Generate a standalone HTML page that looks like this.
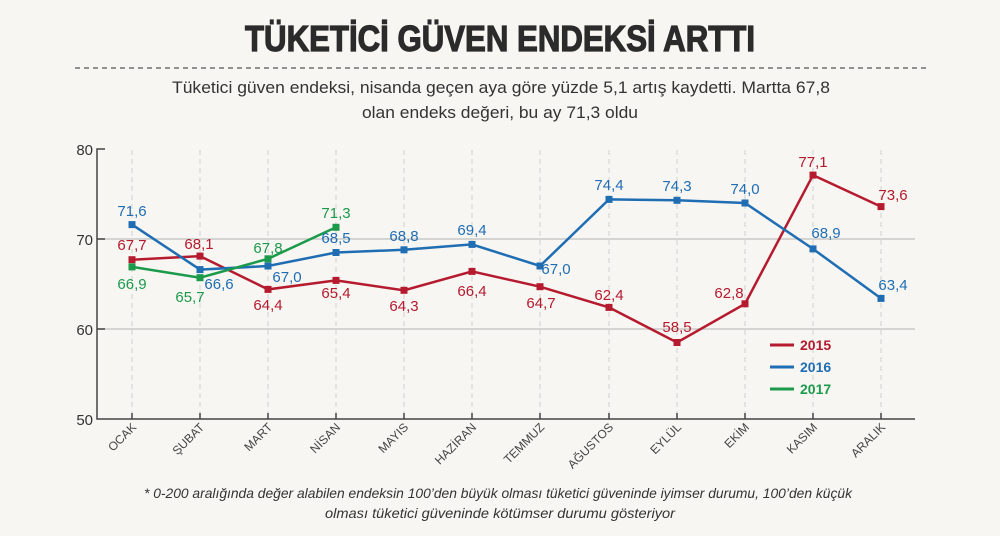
<!DOCTYPE html>
<html><head><meta charset="utf-8"><style>
html,body{margin:0;padding:0;background:#f7f6f2;}
svg{display:block;font-family:"Liberation Sans",sans-serif;}
</style></head><body>
<svg width="1000" height="536" viewBox="0 0 1000 536" xmlns="http://www.w3.org/2000/svg">
<rect width="1000" height="536" fill="#f7f6f2"/>
<text x="500" y="51" text-anchor="middle" font-size="36" font-weight="bold" fill="#2b2b2b" stroke="#2b2b2b" stroke-width="1.2" textLength="510" lengthAdjust="spacingAndGlyphs">TÜKETİCİ GÜVEN ENDEKSİ ARTTI</text>
<line x1="75" y1="68" x2="930" y2="68" stroke="#555" stroke-width="1.2" stroke-dasharray="5,4"/>
<text x="501" y="93" text-anchor="middle" font-size="17" fill="#333" textLength="658" lengthAdjust="spacingAndGlyphs">Tüketici güven endeksi, nisanda geçen aya göre yüzde 5,1 artış kaydetti. Martta 67,8</text>
<text x="500" y="118" text-anchor="middle" font-size="17" fill="#333" textLength="276" lengthAdjust="spacingAndGlyphs">olan endeks değeri, bu ay 71,3 oldu</text>

<line x1="97" y1="239" x2="915" y2="239" stroke="#c8c8c8" stroke-width="1.5"/>
<line x1="97" y1="329" x2="915" y2="329" stroke="#c8c8c8" stroke-width="1.5"/>
<g stroke="#d0d0d0" stroke-dasharray="5,4" stroke-width="1">
<line x1="132" y1="150" x2="132" y2="419"/><line x1="200" y1="150" x2="200" y2="419"/><line x1="268" y1="150" x2="268" y2="419"/><line x1="336" y1="150" x2="336" y2="419"/><line x1="404" y1="150" x2="404" y2="419"/><line x1="472" y1="150" x2="472" y2="419"/><line x1="540" y1="150" x2="540" y2="419"/><line x1="609" y1="150" x2="609" y2="419"/><line x1="677" y1="150" x2="677" y2="419"/><line x1="745" y1="150" x2="745" y2="419"/><line x1="813" y1="150" x2="813" y2="419"/><line x1="881" y1="150" x2="881" y2="419"/>
</g>
<g stroke="#444" stroke-width="1.5" fill="none">
<polyline points="105,149 97,149 97,419 915,419"/>
<line x1="97" y1="239" x2="105" y2="239"/><line x1="97" y1="329" x2="105" y2="329"/>
<line x1="132" y1="413" x2="132" y2="419"/><line x1="200" y1="413" x2="200" y2="419"/><line x1="268" y1="413" x2="268" y2="419"/><line x1="336" y1="413" x2="336" y2="419"/><line x1="404" y1="413" x2="404" y2="419"/><line x1="472" y1="413" x2="472" y2="419"/><line x1="540" y1="413" x2="540" y2="419"/><line x1="609" y1="413" x2="609" y2="419"/><line x1="677" y1="413" x2="677" y2="419"/><line x1="745" y1="413" x2="745" y2="419"/><line x1="813" y1="413" x2="813" y2="419"/><line x1="881" y1="413" x2="881" y2="419"/>
</g>
<g font-size="15" fill="#333" text-anchor="end">
<text x="93" y="155">80</text><text x="93" y="245">70</text><text x="93" y="335">60</text><text x="93" y="425">50</text>
</g>
<g font-size="12" fill="#444" text-anchor="end">
<text transform="translate(137,428) rotate(-45)">OCAK</text>
<text transform="translate(205,428) rotate(-45)">ŞUBAT</text>
<text transform="translate(273,428) rotate(-45)">MART</text>
<text transform="translate(341,428) rotate(-45)">NİSAN</text>
<text transform="translate(409,428) rotate(-45)">MAYIS</text>
<text transform="translate(477,428) rotate(-45)">HAZİRAN</text>
<text transform="translate(545,428) rotate(-45)">TEMMUZ</text>
<text transform="translate(614,428) rotate(-45)">AĞUSTOS</text>
<text transform="translate(682,428) rotate(-45)">EYLÜL</text>
<text transform="translate(750,428) rotate(-45)">EKİM</text>
<text transform="translate(818,428) rotate(-45)">KASIM</text>
<text transform="translate(886,428) rotate(-45)">ARALIK</text>
</g>

<g stroke="#b51a2e" fill="#b51a2e">
<polyline fill="none" stroke-width="2.5" points="132,259.7 200,256.1 268,289.4 336,280.4 404,290.3 472,271.4 540,286.7 609,307.4 677,342.5 745,303.8 813,175.1 881,206.6"/>
<g stroke="none">
<rect x="128.5" y="256.2" width="7" height="7"/><rect x="196.5" y="252.6" width="7" height="7"/><rect x="264.5" y="285.9" width="7" height="7"/><rect x="332.5" y="276.9" width="7" height="7"/><rect x="400.5" y="286.8" width="7" height="7"/><rect x="468.5" y="267.9" width="7" height="7"/><rect x="536.5" y="283.2" width="7" height="7"/><rect x="605.5" y="303.9" width="7" height="7"/><rect x="673.5" y="339" width="7" height="7"/><rect x="741.5" y="300.3" width="7" height="7"/><rect x="809.5" y="171.6" width="7" height="7"/><rect x="877.5" y="203.1" width="7" height="7"/>
</g></g>
<g stroke="#1f6db3" fill="#1f6db3">
<polyline fill="none" stroke-width="2.5" points="132,224.6 200,269.6 268,266 336,252.5 404,249.8 472,244.4 540,266 609,199.4 677,200.3 745,203 813,248.9 881,298.4"/>
<g stroke="none">
<rect x="128.5" y="221.1" width="7" height="7"/><rect x="196.5" y="266.1" width="7" height="7"/><rect x="264.5" y="262.5" width="7" height="7"/><rect x="332.5" y="249" width="7" height="7"/><rect x="400.5" y="246.3" width="7" height="7"/><rect x="468.5" y="240.9" width="7" height="7"/><rect x="536.5" y="262.5" width="7" height="7"/><rect x="605.5" y="195.9" width="7" height="7"/><rect x="673.5" y="196.8" width="7" height="7"/><rect x="741.5" y="199.5" width="7" height="7"/><rect x="809.5" y="245.4" width="7" height="7"/><rect x="877.5" y="294.9" width="7" height="7"/>
</g></g>
<g stroke="#1b9a4b" fill="#1b9a4b">
<polyline fill="none" stroke-width="2.5" points="132,266.9 200,277.7 268,258.8 336,227.3"/>
<g stroke="none">
<rect x="128.5" y="263.4" width="7" height="7"/><rect x="196.5" y="274.2" width="7" height="7"/><rect x="264.5" y="255.3" width="7" height="7"/><rect x="332.5" y="223.8" width="7" height="7"/>
</g></g>

<g font-size="15" text-anchor="middle">
<g fill="#b51a2e">
<text x="132" y="250">67,7</text><text x="199" y="249">68,1</text><text x="268" y="310">64,4</text><text x="336" y="298">65,4</text><text x="404" y="311">64,3</text><text x="472" y="296">66,4</text><text x="541" y="308">64,7</text><text x="609" y="300">62,4</text><text x="677" y="332">58,5</text><text x="729" y="298">62,8</text><text x="813" y="167">77,1</text><text x="893" y="200">73,6</text>
<text x="800" y="350" font-weight="bold" font-size="14" text-anchor="start">2015</text>
</g>
<g fill="#1f6db3">
<text x="132" y="216">71,6</text><text x="219" y="289">66,6</text><text x="287" y="282">67,0</text><text x="336" y="243">68,5</text><text x="404" y="241">68,8</text><text x="472" y="235">69,4</text><text x="556" y="274">67,0</text><text x="609" y="190">74,4</text><text x="677" y="191">74,3</text><text x="745" y="194">74,0</text><text x="826" y="238">68,9</text><text x="893" y="290">63,4</text>
<text x="800" y="372" font-weight="bold" font-size="14" text-anchor="start">2016</text>
</g>
<g fill="#1b9a4b">
<text x="132" y="289">66,9</text><text x="190" y="302">65,7</text><text x="268" y="253">67,8</text><text x="336" y="218">71,3</text>
<text x="800" y="394" font-weight="bold" font-size="14" text-anchor="start">2017</text>
</g>
</g>
<line x1="770" y1="345" x2="794" y2="345" stroke="#b51a2e" stroke-width="3"/>
<line x1="770" y1="367" x2="794" y2="367" stroke="#1f6db3" stroke-width="3"/>
<line x1="770" y1="389" x2="794" y2="389" stroke="#1b9a4b" stroke-width="3"/>

<g font-size="14" font-style="italic" fill="#333" text-anchor="middle">
<text x="498" y="498" textLength="708" lengthAdjust="spacingAndGlyphs">* 0-200 aralığında değer alabilen endeksin 100’den büyük olması tüketici güveninde iyimser durumu, 100’den küçük</text>
<text x="500" y="518" textLength="350" lengthAdjust="spacingAndGlyphs">olması tüketici güveninde kötümser durumu gösteriyor</text>
</g>
</svg>
</body></html>
